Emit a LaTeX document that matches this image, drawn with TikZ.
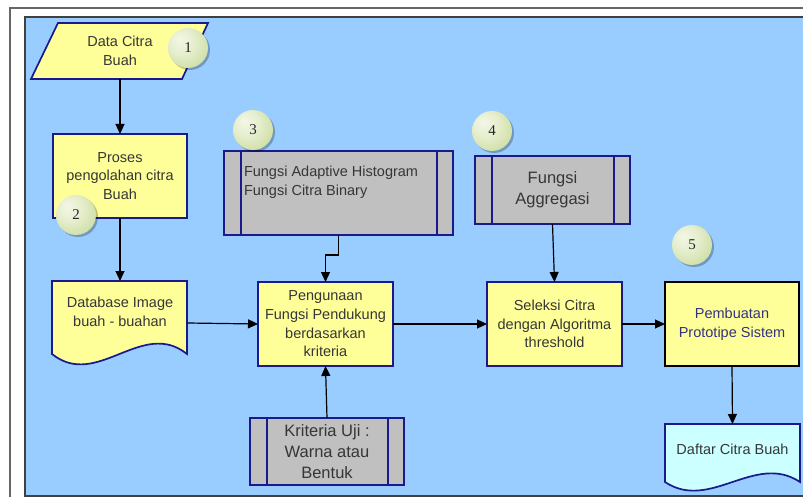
\documentclass[tikz,border=0pt]{standalone}
\usepackage{fontspec}
\setmainfont{Liberation Sans}
\newfontfamily\numfont{Liberation Serif}
\usetikzlibrary{arrows.meta,shadows}
\definecolor{bgblue}{HTML}{99CCFF}
\definecolor{boxyellow}{HTML}{FFFF99}
\definecolor{boxgrey}{HTML}{C0C0C0}
\definecolor{navyline}{HTML}{1A1A8C}
\definecolor{txt}{HTML}{363636}
\definecolor{pemtxt}{HTML}{333380}
\definecolor{cyanfill}{HTML}{CCFFFF}
\definecolor{bubA}{HTML}{F3F7E6}
\definecolor{bubB}{HTML}{C6D996}
\pgfdeclareradialshading{bubbleshade}{\pgfpoint{-12bp}{12bp}}{color(0bp)=(bubA); color(16bp)=(bubA!70!bubB); color(38bp)=(bubB); color(50bp)=(bubB!88!gray)}
\tikzset{
  base/.style={inner sep=0pt, outer sep=0pt, align=center, text=txt, font=\fontsize{14.5}{18.7}\selectfont},
  box/.style={base, draw=navyline, line width=1.7pt, fill=boxyellow},
  subbox/.style={base, draw=navyline, line width=1.7pt, fill=boxgrey},
  bigtxt/.style={font=\fontsize{16.5}{20.7}\selectfont},
  shapeline/.style={draw=navyline, line width=1.7pt},
  conn/.style={draw=black, line width=1.2pt, -{Triangle[length=10pt,width=9pt]}},
  bubble/.style={circle, minimum size=40pt, inner sep=0pt, shading=bubbleshade,
     drop shadow={shadow xshift=2pt, shadow yshift=-2pt, opacity=0.25, fill=black},
     font=\numfont\fontsize{15}{15}\selectfont, text=black!85}
}
\begin{document}
\begin{tikzpicture}[x=1pt,y=-1pt]
\useasboundingbox (0,0) rectangle (803,497);
\clip (0,0) rectangle (803,497);
% frame
\fill[white] (0,0) rectangle (803,497);
\draw[black!60, line width=1.8pt] (10,8) rectangle (880,560);
\fill[bgblue] (25,17) rectangle (880,496);
\draw[black!75, line width=1.3pt] (880,17) -- (25,17) -- (25,496) -- (880,496);

% shapes drawn directly
\filldraw[shapeline, fill=boxyellow] (58,23) -- (208,23) -- (182,79) -- (31,79) -- cycle;
\filldraw[shapeline, fill=boxyellow] (52,281) -- (187,281) -- (187,354)
   .. controls (142,318) and (97,390) .. (52,354) -- cycle;
\filldraw[shapeline, fill=cyanfill] (665,424) -- (800,424) -- (800,482)
   .. controls (755,452) and (710,512) .. (665,482) -- cycle;

% nodes
\node[base, minimum width=150pt, minimum height=56pt] (data) at (120,51) {Data Citra\\Buah};
\node[box, minimum width=134pt, minimum height=84pt] (pro) at (120,176) {Proses\\pengolahan citra\\Buah};
\node[base, minimum width=135pt, minimum height=84pt] (db) at (120,323) {};
\node[base] (dbt) at (120,311.5) {Database Image\\buah - buahan};

\node[subbox, minimum width=229pt, minimum height=84pt] (adapt) at (338.5,193) {};
\draw[shapeline] ([xshift=17pt]adapt.north west) -- ([xshift=17pt]adapt.south west);
\draw[shapeline] ([xshift=-16pt]adapt.north east) -- ([xshift=-16pt]adapt.south east);
\node[base, anchor=west, align=left] (adaptt) at (244,182.5) {Fungsi Adaptive Histogram\\Fungsi Citra Binary};

\node[box, minimum width=135pt, minimum height=84pt] (pen) at (325.5,324) {Pengunaan\\Fungsi Pendukung\\berdasarkan\\kriteria};

\node[subbox, bigtxt, minimum width=154pt, minimum height=67pt] (krit) at (327,451.5) {Kriteria Uji :\\Warna atau\\Bentuk};
\draw[shapeline] ([xshift=17pt]krit.north west) -- ([xshift=17pt]krit.south west);
\draw[shapeline] ([xshift=-16pt]krit.north east) -- ([xshift=-16pt]krit.south east);

\node[subbox, bigtxt, minimum width=155pt, minimum height=68pt] (agg) at (552.5,190) {Fungsi\\Aggregasi};
\draw[shapeline] ([xshift=17pt]agg.north west) -- ([xshift=17pt]agg.south west);
\draw[shapeline] ([xshift=-16pt]agg.north east) -- ([xshift=-16pt]agg.south east);

\node[box, minimum width=135pt, minimum height=84pt] (sel) at (554.5,324) {Seleksi Citra\\dengan Algoritma\\threshold};
\node[box, draw=black, line width=2.2pt, text=pemtxt, minimum width=134pt, minimum height=84pt] (pem) at (732,324) {Pembuatan\\Prototipe Sistem};
\node[base, minimum width=135pt, minimum height=58pt] (daf) at (732.5,453) {};
\node[base] (daft) at (732.5,449) {Daftar Citra Buah};

% connectors
\draw[conn] (data.south) -- (pro.north);
\draw[conn] (pro.south) -- (db.north);
\draw[conn] (db.east) -- (pen.west);
\draw[conn] (adapt.south) -- ++(0,20) -| (pen.north);
\draw[conn] (krit.north) -- (pen.south);
\draw[conn] (pen.east) -- (sel.west);
\draw[conn] (agg.south) -- (sel.north);
\draw[conn] (sel.east) -- (pem.west);
\draw[conn] (pem.south) -- (daf.north);

% bubbles
\node[bubble] (b1) at (188,48) {1};
\node[bubble] (b2) at (76,215) {2};
\node[bubble] (b3) at (253,130) {3};
\node[bubble] (b4) at (492,131) {4};
\node[bubble] (b5) at (692,245) {5};
\end{tikzpicture}
\end{document}
